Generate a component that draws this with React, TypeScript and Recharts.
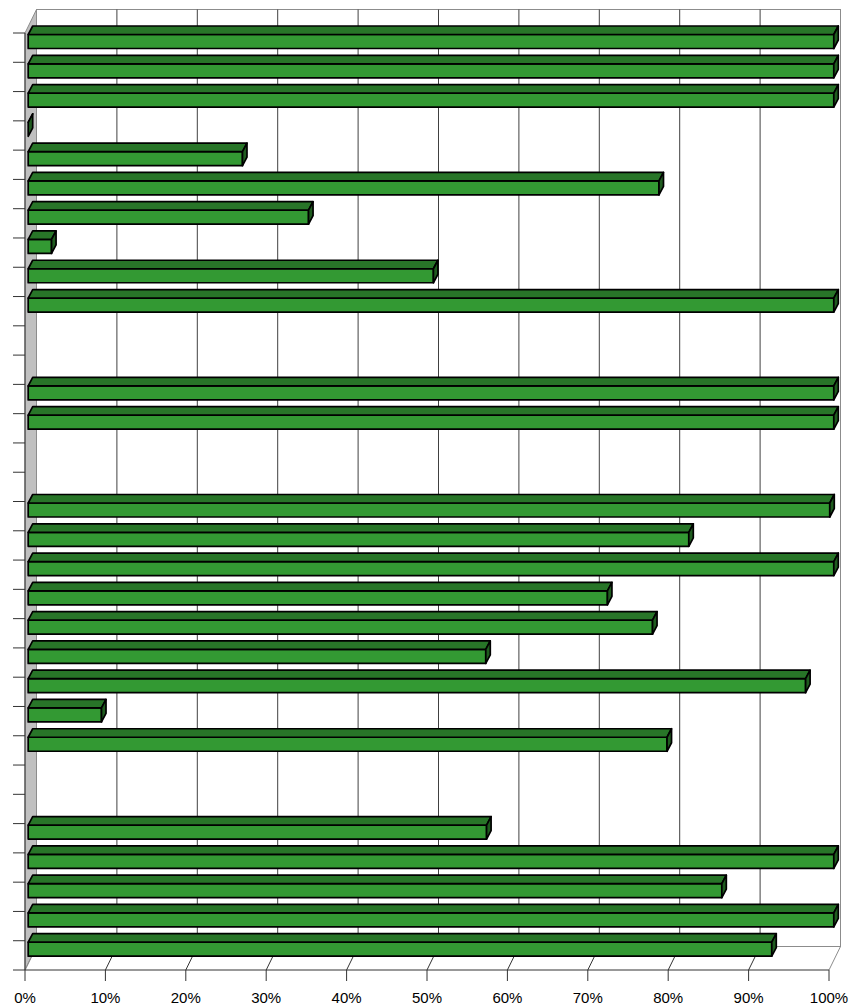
import { BarChart, Bar, XAxis, YAxis, CartesianGrid } from 'recharts';

// row labels are not printed on the chart, so rows are just numbered
const categories = [
  '1', '2', '3', '4', '5', '6', '7', '8', '9', '10', '11', '12', '13', '14', '15', '16',
  '17', '18', '19', '20', '21', '22', '23', '24', '25', '26', '27', '28', '29', '30', '31', '32',
];
const values: (number | null)[] = [
  100, 100, 100, 0, 26.6, 78.3, 34.8, 2.9, 50.3, 100, null, null, 100, 100, null, null,
  99.5, 82.0, 100, 71.9, 77.5, 56.8, 96.5, 9.1, 79.3, null, null, 56.9, 100, 86.1, 100, 92.3,
];
const xTicks = [0, 10, 20, 30, 40, 50, 60, 70, 80, 90, 100];

const data = categories.map((name, i) => ({ name, value: values[i] }));

const W = 855;
const H = 1006;
const LEFT = 25;
const TOP = 33;
const RIGHT = 829;
const BOTTOM = 970;
const BAND = (BOTTOM - TOP) / categories.length;
const BAR_SIZE = 14;
// depth of the box (walls) and of each bar
const DX = 11.5;
const DY = -23.5;
const BAR_DX = 4.5;
const BAR_DY = -8.5;
const BAR_SHIFT = 3.2;

const FONT = '"Liberation Sans", Arial, sans-serif';
const WALL_EDGE = '#8c8c8c';
const GRID = '#404040';

const Bar3D = (props: any) => {
  const { x, y, width, height } = props;
  if (x == null || y == null) return null;
  const x0 = x + BAR_SHIFT;
  const x1 = x0 + Math.max(width, 0) * 1.002;
  const top = y - Math.floor((BAND - BAR_SIZE) / 2) + 0.5;
  const bottom = top + height;
  return (
    <g stroke="#000" strokeWidth={1.7} strokeLinejoin="round">
      <rect x={x0} y={top} width={x1 - x0} height={bottom - top} fill="#339933" />
      <polygon
        points={`${x0},${top} ${x0 + BAR_DX},${top + BAR_DY} ${x1 + BAR_DX},${top + BAR_DY} ${x1},${top}`}
        fill="#287528"
      />
      <polygon
        points={`${x1},${top} ${x1 + BAR_DX},${top + BAR_DY} ${x1 + BAR_DX},${bottom + BAR_DY} ${x1},${bottom}`}
        fill="#1f5c1f"
      />
    </g>
  );
};

const GridLine = (props: any) => {
  const { x1, y1, y2, index } = props;
  const edge = Math.abs(x1 - LEFT) < 0.5 || Math.abs(x1 - RIGHT) < 0.5;
  return (
    <g key={`g-${index}`}>
      {Math.abs(x1 - LEFT) < 0.5 && (
        <g>
          <rect x={LEFT + DX} y={TOP + DY} width={RIGHT - LEFT} height={BOTTOM - TOP} fill="#fff" stroke={WALL_EDGE} />
          <polygon
            points={`${LEFT},${TOP} ${LEFT + DX},${TOP + DY} ${LEFT + DX},${BOTTOM + DY} ${LEFT},${BOTTOM}`}
            fill="#c0c0c0"
            stroke={WALL_EDGE}
          />
        </g>
      )}
      {!edge && <line x1={x1 + DX} y1={y1 + DY} x2={x1 + DX} y2={y2 + DY} stroke={GRID} />}
      <line x1={x1} y1={y2} x2={x1 + DX} y2={y2 + DY} stroke={edge ? WALL_EDGE : '#333'} />
    </g>
  );
};

const LeftTick = (props: any) => {
  const { y, index } = props;
  const t = y - BAND / 2;
  return (
    <g stroke="#333">
      <line x1={LEFT - 12} y1={t} x2={LEFT} y2={t} />
      {index === categories.length - 1 && <line x1={LEFT - 12} y1={t + BAND} x2={LEFT} y2={t + BAND} />}
    </g>
  );
};

export default function App() {
  return (
    <div style={{ position: 'absolute', left: 0, top: 0, width: W, height: H, background: '#fff' }}>
      <BarChart
        width={W}
        height={H}
        data={data}
        layout="vertical"
        margin={{ top: TOP, right: W - RIGHT, bottom: H - BOTTOM - 30, left: 0 }}
      >
        <CartesianGrid horizontal={false} vertical={GridLine} />
        <XAxis
          type="number"
          domain={[0, 100]}
          ticks={xTicks}
          interval={0}
          height={30}
          tickFormatter={(v: number) => `${v}%`}
          tickSize={11}
          tickMargin={11}
          axisLine={{ stroke: '#333' }}
          tickLine={{ stroke: '#333' }}
          tick={{ fill: '#000', fontSize: 15, fontFamily: FONT }}
        />
        <YAxis
          type="category"
          dataKey="name"
          width={LEFT}
          axisLine={{ stroke: '#333' }}
          tickLine={false}
          tick={LeftTick}
          interval={0}
        />
        <Bar dataKey="value" barSize={BAR_SIZE} shape={Bar3D} isAnimationActive={false} />
      </BarChart>
    </div>
  );
}
